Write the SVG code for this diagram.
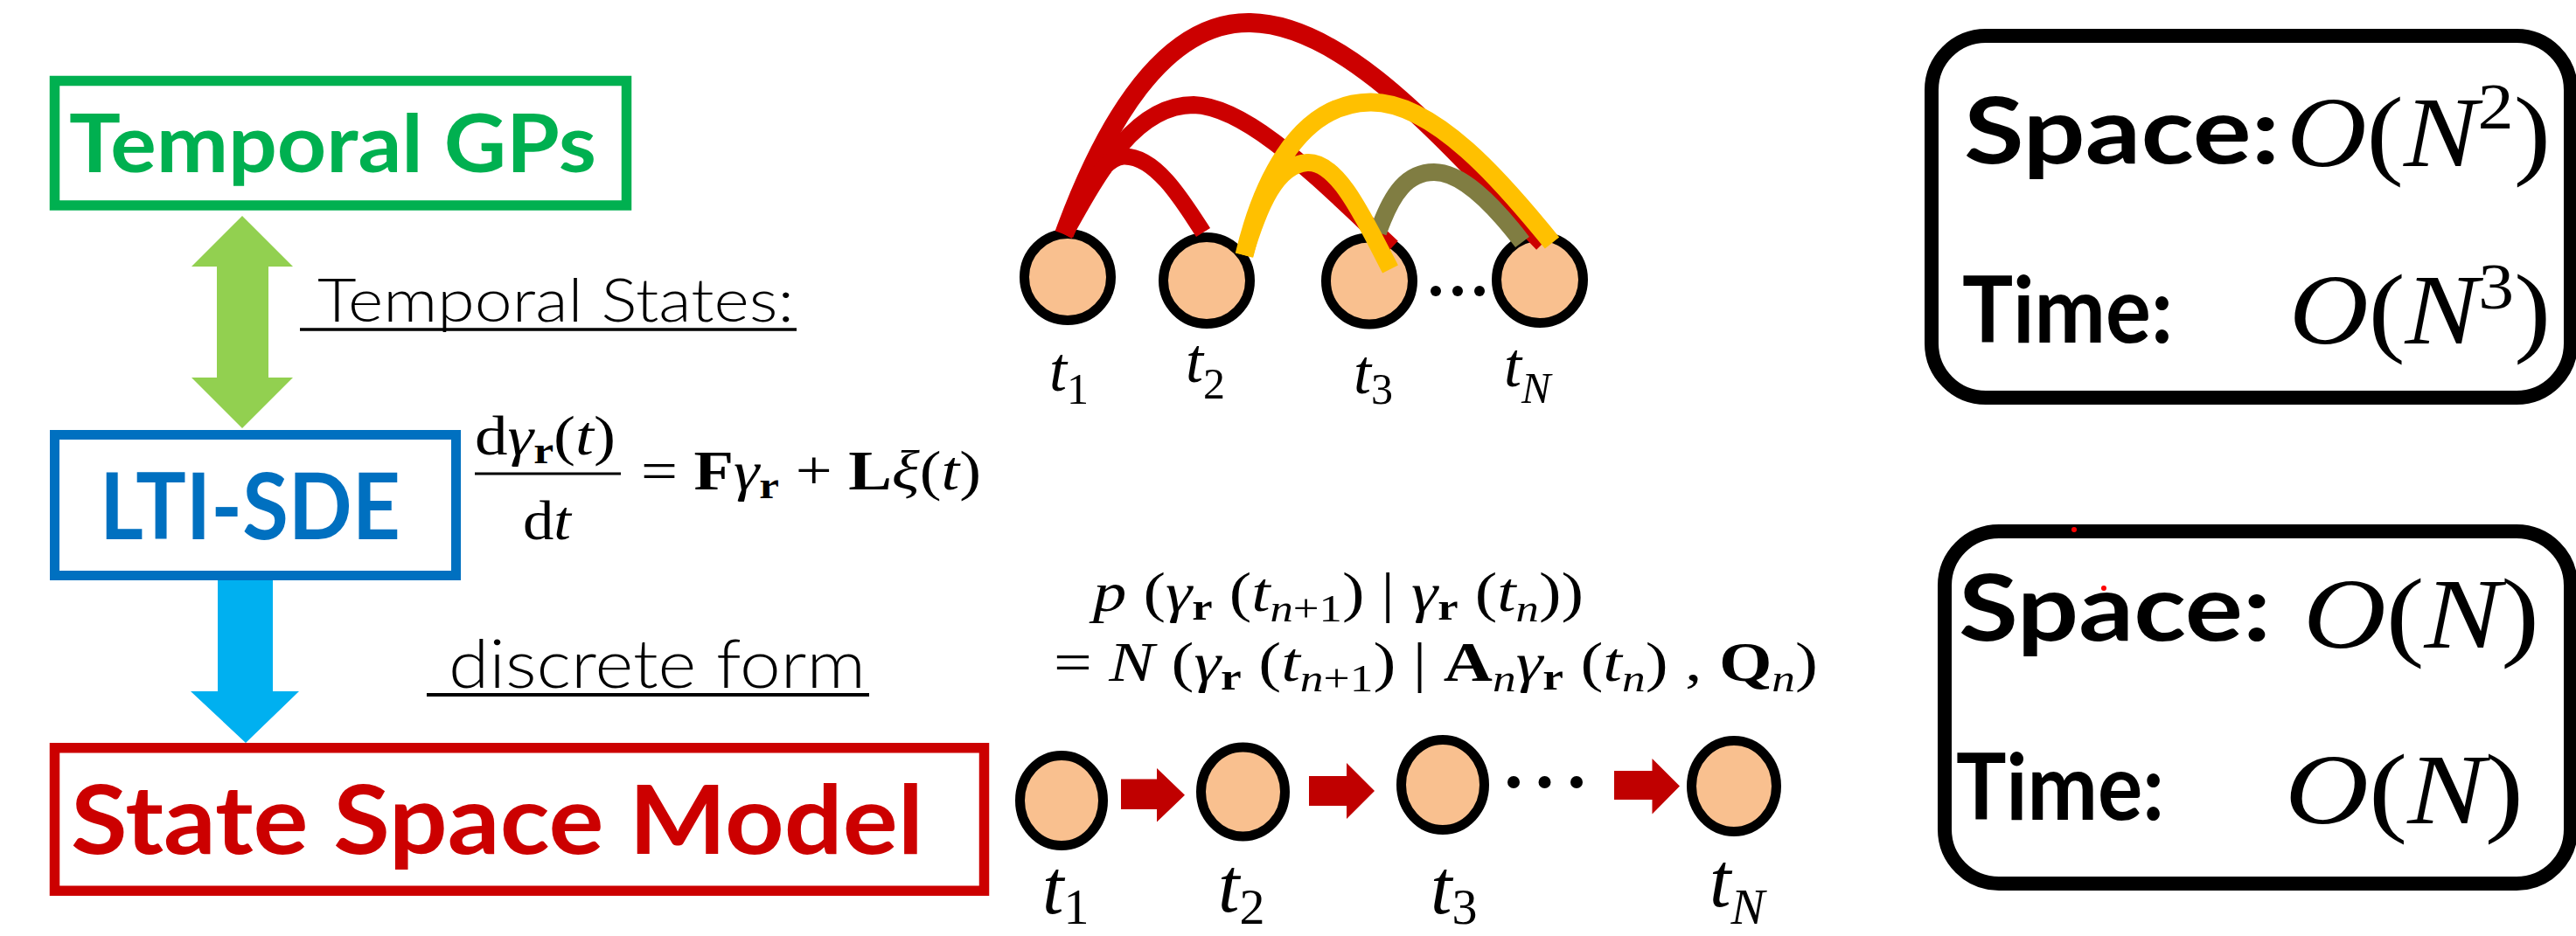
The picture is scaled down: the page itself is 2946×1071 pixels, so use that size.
<svg xmlns="http://www.w3.org/2000/svg" width="2946" height="1071" viewBox="0 0 2946 1071">
<style>
.hd{font-family:Lato,"Liberation Sans",sans-serif;font-weight:700}
.lt{font-family:Lato,"Open Sans","Liberation Sans",sans-serif;font-weight:300;fill:#000}
.mt{font-family:"Liberation Serif","DejaVu Serif",serif;fill:#000}
.it{font-style:italic}
.bf{font-weight:bold;font-style:normal}
.node{fill:#F9C08F;stroke:#000;stroke-width:11}
.arc{fill:none;stroke-linecap:butt}
.bx{fill:none;stroke:#000;stroke-width:16}
</style>
<rect width="2946" height="1071" fill="#fff"/>

<g id="temporal-gps">
<rect x="62.5" y="92.5" width="654" height="142.5" fill="none" stroke="#00B050" stroke-width="11.5"/>
<text class="hd" x="79" y="197" font-size="92" fill="#00B050" textLength="603" lengthAdjust="spacingAndGlyphs">Temporal GPs</text>
</g>
<g id="lti-sde">
<rect x="62.5" y="497.5" width="459" height="161" fill="none" stroke="#0070C0" stroke-width="11"/>
<text class="hd" x="114" y="617" font-size="106" fill="#0070C0" textLength="344" lengthAdjust="spacingAndGlyphs">LTI-SDE</text>
</g>
<g id="state-space-model">
<rect x="62.5" y="855.75" width="1063" height="163.5" fill="none" stroke="#CC0000" stroke-width="11.5"/>
<text class="hd" x="81" y="977" font-size="110" fill="#CC0000" textLength="975" lengthAdjust="spacingAndGlyphs">State Space Model</text>
</g>

<g id="connectors">
<polygon points="277,247 335,305 307,305 307,432 335,432 277,490 219,432 248,432 248,305 219,305" fill="#92D050"/>
<polygon points="249,664 312,664 312,791 342,791 281,850 218,791 249,791" fill="#00B0F0"/>
<polygon points="1282,891.5 1323,891.5 1323,879 1355,909.7 1323,940.6 1323,926 1282,926" fill="#C00000"/>
<polygon points="1497,888 1540,888 1540,873 1572,905 1540,937 1540,922 1497,922" fill="#C00000"/>
<polygon points="1846,882 1889.5,882 1889.5,868 1921,899.5 1889.5,931.5 1889.5,915 1846,915" fill="#C00000"/>
</g>

<g id="labels">
<text class="lt" x="363" y="368" font-size="68" textLength="545" lengthAdjust="spacingAndGlyphs">Temporal States:</text>
<line x1="343" y1="377" x2="911" y2="377" stroke="#000" stroke-width="3.5"/>
<text class="lt" x="513" y="787" font-size="76" textLength="477" lengthAdjust="spacingAndGlyphs">discrete form</text>
<line x1="488" y1="795" x2="994" y2="795" stroke="#000" stroke-width="4"/>
</g>

<g id="sde-equation">
<text class="mt" x="543" y="520" font-size="64" textLength="161" lengthAdjust="spacingAndGlyphs">d<tspan class="it">γ</tspan><tspan class="bf" font-size="44" dy="10">r</tspan><tspan dy="-10">(</tspan><tspan class="it">t</tspan>)</text>
<line x1="543" y1="542" x2="710" y2="542" stroke="#000" stroke-width="3"/>
<text class="mt" x="598" y="617" font-size="64" textLength="55" lengthAdjust="spacingAndGlyphs">d<tspan class="it">t</tspan></text>
<text class="mt" x="733" y="560" font-size="64" textLength="389" lengthAdjust="spacingAndGlyphs">= <tspan class="bf">F</tspan><tspan class="it">γ</tspan><tspan class="bf" font-size="44" dy="10">r</tspan><tspan dy="-10"> + </tspan><tspan class="bf">L</tspan><tspan class="it">ξ</tspan>(<tspan class="it">t</tspan>)</text>
</g>

<g id="ssm-equation">
<text class="mt" x="1250" y="699" font-size="64" textLength="561" lengthAdjust="spacingAndGlyphs"><tspan class="it">p</tspan> (<tspan class="it">γ</tspan><tspan class="bf" font-size="44" dy="10">r</tspan><tspan dy="-10"> (</tspan><tspan class="it">t</tspan><tspan class="it" font-size="44" dy="12">n</tspan><tspan font-size="44">+1</tspan><tspan dy="-12">) | </tspan><tspan class="it">γ</tspan><tspan class="bf" font-size="44" dy="10">r</tspan><tspan dy="-10"> (</tspan><tspan class="it">t</tspan><tspan class="it" font-size="44" dy="12">n</tspan><tspan dy="-12">))</tspan></text>
<text class="mt" x="1205" y="779" font-size="64" textLength="874" lengthAdjust="spacingAndGlyphs">= <tspan class="it">N</tspan> (<tspan class="it">γ</tspan><tspan class="bf" font-size="44" dy="10">r</tspan><tspan dy="-10"> (</tspan><tspan class="it">t</tspan><tspan class="it" font-size="44" dy="12">n</tspan><tspan font-size="44">+1</tspan><tspan dy="-12">) | </tspan><tspan class="bf">A</tspan><tspan class="it" font-size="44" dy="12">n</tspan><tspan class="it" dy="-12">γ</tspan><tspan class="bf" font-size="44" dy="10">r</tspan><tspan dy="-10"> (</tspan><tspan class="it">t</tspan><tspan class="it" font-size="44" dy="12">n</tspan><tspan dy="-12">) , </tspan><tspan class="bf">Q</tspan><tspan class="it" font-size="44" dy="12">n</tspan><tspan dy="-12">)</tspan></text>
</g>

<g id="gp-graph">
<g id="gp-t1"><circle class="node" cx="1221" cy="317" r="49.5"/><text class="mt" x="1200" y="447" font-size="72"><tspan class="it">t</tspan><tspan font-size="50" dy="15">1</tspan></text></g>
<g id="gp-t2"><circle class="node" cx="1380" cy="321" r="49.5"/><text class="mt" x="1356" y="437" font-size="72"><tspan class="it">t</tspan><tspan font-size="50" dy="19">2</tspan></text></g>
<g id="gp-t3"><circle class="node" cx="1566" cy="321.5" r="49.5"/><text class="mt" x="1548" y="450" font-size="72"><tspan class="it">t</tspan><tspan font-size="50" dy="12">3</tspan></text></g>
<g id="gp-tN"><circle class="node" cx="1761" cy="320" r="49.5"/><text class="mt" x="1720" y="442" font-size="72"><tspan class="it">t</tspan><tspan class="it" font-size="50" dy="19">N</tspan></text></g>
<g id="gp-dots" fill="#000"><circle cx="1642" cy="333" r="6"/><circle cx="1667" cy="333" r="6"/><circle cx="1692" cy="333" r="6"/></g>
<g id="gp-arcs">
<path class="arc" d="M1217,268 C1262,145 1330,24 1430,26 C1540,28 1650,160 1765,278" stroke="#CC0000" stroke-width="22"/>
<path class="arc" d="M1217,268 C1260,190 1300,120 1365,120 C1430,122 1515,212 1592,283" stroke="#CC0000" stroke-width="20"/>
<path class="arc" d="M1217,268 C1240,225 1260,180 1285,179 C1320,178 1350,225 1376,266" stroke="#CC0000" stroke-width="19"/>
<path class="arc" d="M1576,266 C1592,220 1610,197 1640,197 C1670,197 1705,230 1741,277" stroke="#807D42" stroke-width="20"/>
<path class="arc" d="M1423,292 C1440,220 1480,118 1567,117 C1640,116 1720,210 1775,278" stroke="#FFC000" stroke-width="21"/>
<path class="arc" d="M1423,292 C1440,235 1460,188 1495,186 C1530,184 1560,250 1590,308" stroke="#FFC000" stroke-width="20"/>
</g>
</g>

<g id="ssm-chain">
<g id="ssm-t1"><ellipse class="node" cx="1214" cy="916" rx="47.5" ry="51.5"/><text class="mt" x="1192" y="1045" font-size="88"><tspan class="it">t</tspan><tspan font-size="58" dy="12">1</tspan></text></g>
<g id="ssm-t2"><ellipse class="node" cx="1421.5" cy="906" rx="48" ry="51"/><text class="mt" x="1393" y="1043" font-size="88"><tspan class="it">t</tspan><tspan font-size="58" dy="14">2</tspan></text></g>
<g id="ssm-t3"><ellipse class="node" cx="1650" cy="898" rx="47.5" ry="51.5"/><text class="mt" x="1636" y="1045" font-size="88"><tspan class="it">t</tspan><tspan font-size="58" dy="12">3</tspan></text></g>
<g id="ssm-tN"><ellipse class="node" cx="1983" cy="899.5" rx="48.5" ry="52"/><text class="mt" x="1955" y="1037" font-size="88"><tspan class="it">t</tspan><tspan class="it" font-size="58" dy="20">N</tspan></text></g>
<g id="ssm-dots" fill="#000"><circle cx="1731" cy="895" r="7"/><circle cx="1766.5" cy="895" r="7"/><circle cx="1803" cy="895" r="7"/></g>
</g>

<g id="gp-complexity">
<rect class="bx" x="2209" y="41" width="731" height="414" rx="62"/>
<text class="hd" x="2246" y="187" font-size="106" fill="#000" textLength="361" lengthAdjust="spacingAndGlyphs">Space:</text>
<text class="mt" x="2615" y="190" font-size="114" textLength="302" lengthAdjust="spacingAndGlyphs"><tspan class="it">O</tspan>(<tspan class="it">N</tspan><tspan font-size="74" dy="-43">2</tspan><tspan dy="43">)</tspan></text>
<text class="hd" x="2244" y="392" font-size="106" fill="#000" textLength="241" lengthAdjust="spacingAndGlyphs">Time:</text>
<text class="mt" x="2618" y="393" font-size="114" textLength="299" lengthAdjust="spacingAndGlyphs"><tspan class="it">O</tspan>(<tspan class="it">N</tspan><tspan font-size="74" dy="-40">3</tspan><tspan dy="40">)</tspan></text>
</g>

<g id="ssm-complexity">
<rect class="bx" x="2224" y="608" width="716" height="403" rx="62"/>
<text class="hd" x="2240" y="733" font-size="106" fill="#000" textLength="357" lengthAdjust="spacingAndGlyphs">Space:</text>
<text class="mt" x="2634" y="741" font-size="114" textLength="270" lengthAdjust="spacingAndGlyphs"><tspan class="it">O</tspan>(<tspan class="it">N</tspan>)</text>
<text class="hd" x="2237" y="938" font-size="106" fill="#000" textLength="238" lengthAdjust="spacingAndGlyphs">Time:</text>
<text class="mt" x="2613" y="942" font-size="114" textLength="273" lengthAdjust="spacingAndGlyphs"><tspan class="it">O</tspan>(<tspan class="it">N</tspan>)</text>
<circle cx="2372" cy="606" r="3" fill="#FF0000"/>
<circle cx="2406" cy="673" r="3" fill="#FF0000"/>
</g>
</svg>
